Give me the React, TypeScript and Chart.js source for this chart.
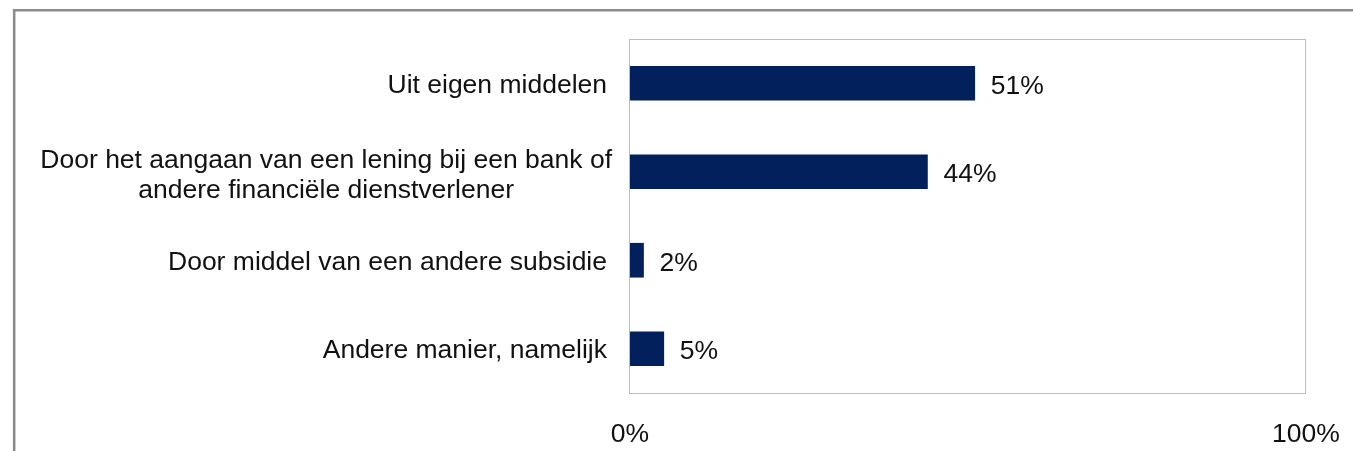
import React, { useEffect, useRef } from "react";
import { Chart, registerables } from "chart.js";

Chart.register(...registerables);

const categories: string[][] = [
  ["Uit eigen middelen"],
  ["Door het aangaan van een lening bij een bank of", "andere financiële dienstverlener"],
  ["Door middel van een andere subsidie"],
  ["Andere manier, namelijk"],
];
const values: number[] = [51, 44, 2, 5];
const xTicks: number[] = [0, 100];

const FONT = "'Liberation Sans', Arial, sans-serif";
const FONT_SIZE = 26.5;
const TEXT_COLOR = "#111111";
const BAR_COLOR = "#02205C";

const framePlugin = {
  id: "framePlugin",
  beforeDraw(chart: any) {
    const { ctx, chartArea } = chart;
    ctx.save();
    ctx.fillStyle = "#ffffff";
    ctx.fillRect(0, 0, chart.width, chart.height);
    ctx.strokeStyle = "#8a8a8a";
    ctx.lineWidth = 2.5;
    ctx.beginPath();
    ctx.moveTo(14.2, chart.height + 5);
    ctx.lineTo(14.2, 10.2);
    ctx.lineTo(chart.width + 5, 10.2);
    ctx.stroke();
    ctx.strokeStyle = "#bcbcbc";
    ctx.lineWidth = 1;
    ctx.strokeRect(
      Math.round(chartArea.left) - 0.5,
      Math.round(chartArea.top) + 0.5,
      Math.round(chartArea.right - chartArea.left),
      Math.round(chartArea.bottom - chartArea.top)
    );
    ctx.restore();
  },
};

const labelsPlugin = {
  id: "labelsPlugin",
  afterDatasetsDraw(chart: any) {
    const { ctx } = chart;
    const yScale = chart.scales.y;
    ctx.save();
    ctx.font = `${FONT_SIZE}px ${FONT}`;
    ctx.fillStyle = TEXT_COLOR;
    ctx.textBaseline = "middle";
    // category labels
    const rightEdge = chart.chartArea.left - 23;
    const lineH = 30;
    categories.forEach((lines, i) => {
      const cy = yScale.getPixelForValue(i) + 2;
      if (lines.length === 1) {
        ctx.textAlign = "right";
        ctx.fillText(lines[0], rightEdge, cy);
      } else {
        const widest = Math.max(...lines.map((l) => ctx.measureText(l).width));
        const cx = rightEdge + 5 - widest / 2;
        ctx.textAlign = "center";
        lines.forEach((l, j) => {
          const ly = cy + 2 + (j - (lines.length - 1) / 2) * lineH;
          ctx.fillText(l, cx, ly);
        });
      }
    });
    // data labels
    const meta = chart.getDatasetMeta(0);
    ctx.textAlign = "left";
    meta.data.forEach((bar: any, i: number) => {
      ctx.fillText(`${values[i]}%`, bar.x + 16, bar.y + 3);
    });
    ctx.restore();
  },
};

export default function App() {
  const ref = useRef<HTMLCanvasElement | null>(null);
  useEffect(() => {
    if (!ref.current) return;
    const chart = new Chart(ref.current, {
      type: "bar",
      data: {
        labels: categories.map((c) => c.join(" ")),
        datasets: [
          {
            data: values,
            backgroundColor: BAR_COLOR,
            borderWidth: 0,
            barThickness: 34,
          },
        ],
      },
      options: {
        indexAxis: "y",
        animation: false,
        responsive: false,
        devicePixelRatio: 1,
        layout: { padding: { top: 39, right: 47, left: 0, bottom: 0 } },
        plugins: {
          legend: { display: false },
          tooltip: { enabled: false },
          title: { display: false },
        },
        scales: {
          x: {
            type: "linear",
            min: xTicks[0],
            max: xTicks[xTicks.length - 1],
            afterBuildTicks(scale: any) {
              scale.ticks = xTicks.map((v) => ({ value: v }));
            },
            afterFit(scale: any) {
              scale.height = 58;
              scale.paddingLeft = 0;
              scale.paddingRight = 0;
            },
            grid: { display: false, drawTicks: false },
            border: { display: false },
            ticks: {
              padding: 26,
              maxRotation: 0,
              autoSkip: false,
              color: TEXT_COLOR,
              font: { family: FONT, size: FONT_SIZE },
              callback: (v: any) => `${v}%`,
            },
          },
          y: {
            type: "category",
            afterFit(scale: any) {
              scale.width = 630;
            },
            grid: { display: false, drawTicks: false },
            border: { display: false },
            ticks: { display: false },
          },
        },
      },
      plugins: [framePlugin, labelsPlugin],
    });
    return () => chart.destroy();
  }, []);
  return (
    <div style={{ position: "absolute", left: 0, top: 0, width: 1353, height: 451 }}>
      <canvas ref={ref} width={1353} height={451} style={{ display: "block" }} />
    </div>
  );
}
